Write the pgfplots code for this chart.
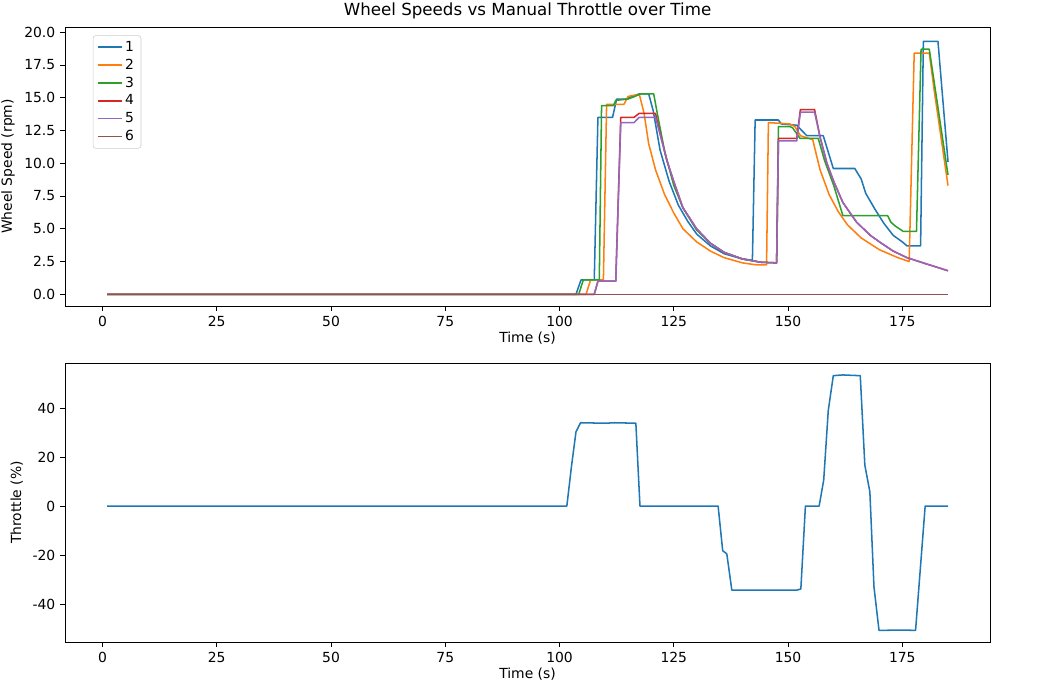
\documentclass[border=0pt]{standalone}
\usepackage{pgfplots}
\pgfplotsset{compat=1.18}
\usepackage{fontspec}
\setmainfont{DejaVu Sans}
\definecolor{c1}{HTML}{1F77B4}\definecolor{c2}{HTML}{FF7F0E}\definecolor{c3}{HTML}{2CA02C}
\definecolor{c4}{HTML}{D62728}\definecolor{c5}{HTML}{9467BD}\definecolor{c6}{HTML}{8C564B}
\begin{document}
\begin{tikzpicture}[x=1pt,y=1pt]
\path[use as bounding box] (0,0) rectangle (753.8,502.6);
\pgfplotsset{every axis/.style={scale only axis, width=666pt, height=201pt,
  xmin=-8.2, xmax=194.2, xtick={0,25,...,175}, tick align=outside,
  xtick pos=bottom, ytick pos=left,
  tick style={black, line width=0.6pt}, major tick length=3.5pt,
  /pgf/number format/assume math mode=true,
  tick label style={font=\fontsize{10}{12}\selectfont},
  label style={font=\fontsize{10}{12}\selectfont},
  xlabel={Time (s)}, every axis plot post/.append style={line width=1.1pt, line join=round},
  axis line style={line width=0.6pt}}}
\begin{axis}[at={(46.8pt,40.3pt)}, anchor=south west,
  ymin=-55.5, ymax=58.4, ytick={-40,-20,0,20,40}, ylabel={Throttle (\%)},
  xlabel style={yshift=3pt}]
\addplot[c1] coordinates {(1,0)(101.6,0)(102.6,16)(103.6,30.3)(104.6,34)(110,33.8)(112,34)(116.7,33.8)(117.6,0)(134.7,0)(135.7,-18.2)(136.6,-19.5)(137.7,-34.3)(151.9,-34.3)(152.8,-33.8)(153.8,0)(156.8,0)(157.8,10.6)(158.8,39)(159.9,53.2)(162,53.5)(165.8,53.2)(166.8,16.7)(167.9,5.8)(168.8,-33)(169.9,-50.7)(175,-50.6)(177.9,-50.7)(180,0)(185,0)};
\end{axis}
\begin{axis}[at={(46.8pt,282.2pt)}, anchor=south west,
  ymin=-0.9, ymax=20.4, ytick={0,2.5,...,20},
  yticklabel style={/pgf/number format/.cd, fixed, fixed zerofill, precision=1},
  ylabel={Wheel Speed (rpm)}, xlabel style={yshift=3pt},
  title={Wheel Speeds vs Manual Throttle over Time}, title style={font=\fontsize{12}{14}\selectfont, yshift=-4pt},
  legend pos=north west, legend cell align=left,
  legend style={font=\fontsize{10}{12}\selectfont, draw=black!20, rounded corners=2pt},
  legend image post style={line width=1.1pt}]
\addplot[c1] coordinates {(1,0)(103.6,0)(104.7,1.1)(107.6,1.1)(108.4,13.5)(111.6,13.5)(112.5,14.9)(114.5,14.9)(116,15.1)(117.5,15.3)(119.5,15.3)(120.5,14)(122,11)(124,8.6)(126,6.8)(128,5.6)(130,4.6)(133,3.7)(136,3.1)(140,2.7)(142.2,2.6)(142.8,13.3)(147.9,13.3)(148.5,13.0)(151.9,12.9)(154.1,12.1)(157.7,12.1)(159.9,9.6)(164.6,9.6)(166,8.8)(167,7.7)(169,6.5)(171,5.4)(173,4.5)(175,4.0)(176,3.7)(179,3.7)(179.6,19.3)(182.8,19.3)(185,10.1)};
\addlegendentry{1}
\addplot[c2] coordinates {(1,0)(105.8,0)(106.8,1.1)(109.6,1.1)(110.3,14.5)(114.1,14.5)(115,15.1)(116.5,15.2)(117.5,15.2)(118.5,13.8)(119.5,11.5)(121,9.5)(123,7.6)(125,6.2)(127,5.0)(130,4.0)(133,3.3)(136,2.8)(140,2.4)(143,2.25)(145.3,2.25)(145.7,13.1)(150.4,13.0)(151.5,12.8)(152.7,12.1)(155.4,11.8)(157,9.5)(159,7.6)(161,6.3)(163,5.3)(166,4.3)(170,3.4)(174,2.8)(176.5,2.5)(177.6,18.4)(180.9,18.4)(182,15.5)(185,8.3)};
\addlegendentry{2}
\addplot[c3] coordinates {(1,0)(104.2,0)(105.2,1.1)(108.7,1.1)(109.2,14.4)(111.8,14.4)(112.3,14.8)(115,14.9)(116.5,15.1)(117.7,15.3)(120.6,15.3)(121.5,13.6)(123,10.9)(125,8.3)(127,6.6)(130,4.9)(133,3.9)(136,3.2)(140,2.7)(144,2.45)(147.5,2.4)(147.9,12.8)(150.4,12.8)(151,12.7)(152.6,11.9)(156.6,11.9)(158,10.2)(160,8.3)(162,6.0)(171.8,6.0)(172.5,5.5)(173.5,5.2)(175.2,4.8)(178.1,4.8)(179.1,18.7)(180.9,18.7)(185,9.1)};
\addlegendentry{3}
\addplot[c4] coordinates {(1,0)(107.6,0)(108.4,1.0)(112.3,1.0)(113.4,13.5)(116.3,13.5)(117.4,13.8)(121,13.8)(122,12.3)(123.5,10.2)(125,8.6)(127,6.6)(130,5.0)(133,3.9)(136,3.2)(140,2.7)(144,2.45)(147.5,2.4)(147.9,11.9)(151.9,11.9)(152.7,14.1)(155.8,14.1)(157,12.0)(158.5,10.0)(160,8.6)(162,7.0)(165,5.5)(168,4.5)(170,4.0)(173,3.3)(176,2.8)(180,2.35)(185,1.8)};
\addlegendentry{4}
\addplot[c5] coordinates {(1,0)(107.6,0)(108.4,1.0)(112.3,1.0)(113.4,13.1)(116.3,13.1)(117.4,13.5)(121,13.5)(122,12.2)(123.5,10.2)(125,8.6)(127,6.6)(130,5.0)(133,3.9)(136,3.2)(140,2.7)(144,2.45)(147.5,2.4)(147.9,11.7)(151.9,11.7)(152.7,13.9)(155.8,13.9)(157,12.0)(158.5,10.0)(160,8.6)(162,7.0)(165,5.5)(168,4.5)(170,4.0)(173,3.3)(176,2.8)(180,2.35)(185,1.8)};
\addlegendentry{5}
\addplot[c6] coordinates {(1,0)(185,0)};
\addlegendentry{6}
\end{axis}
\end{tikzpicture}
\end{document}
